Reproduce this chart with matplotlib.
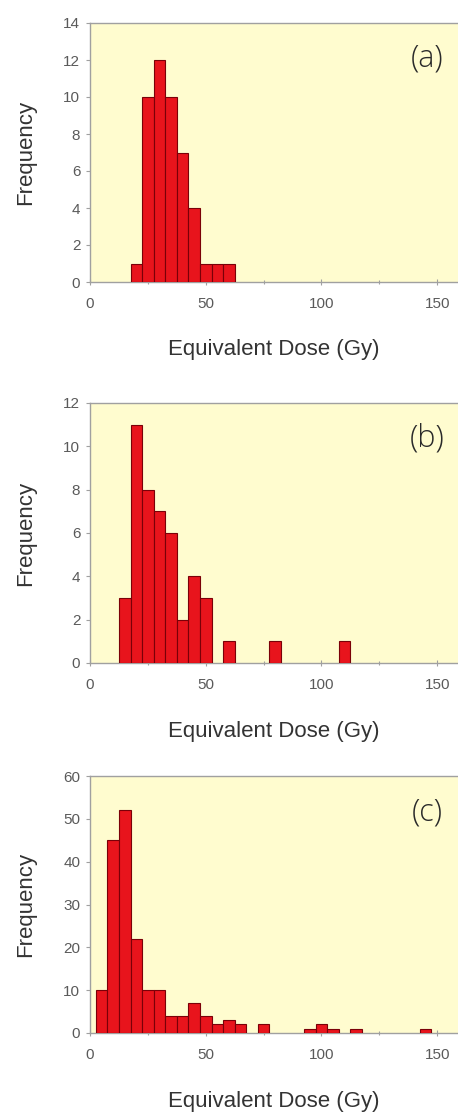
import numpy as np
import matplotlib
matplotlib.use("Agg")
import matplotlib.pyplot as plt
from matplotlib.ticker import MultipleLocator

# histogram bins (centre of each 5 Gy bin) and counts
a_centers = [20, 25, 30, 35, 40, 45, 50, 55, 60]
a_counts = [1, 10, 12, 10, 7, 4, 1, 1, 1]

b_centers = [15, 20, 25, 30, 35, 40, 45, 50, 60, 80, 110]
b_counts = [3, 11, 8, 7, 6, 2, 4, 3, 1, 1, 1]

c_centers = [5, 10, 15, 20, 25, 30, 35, 40, 45, 50, 55, 60, 65, 75,
             95, 100, 105, 115, 145]
c_counts = [10, 45, 52, 22, 10, 10, 4, 4, 7, 4, 2, 3, 2, 2,
            1, 2, 1, 1, 1]

panel_tags = ["(a)", "(b)", "(c)"]
y_tops = [14, 12, 60]
y_steps = [2, 2, 10]
x_ticks = [0, 50, 100, 150]

BIN_WIDTH = 5
BAR_COLOR = "#e8141c"
EDGE_COLOR = "#7a0008"
BG_COLOR = "#fffccf"
SPINE_COLOR = "#a0a0a0"
TEXT_COLOR = "#333333"
TICK_COLOR = "#5a5a5a"

plt.rcParams["font.family"] = ["Liberation Sans", "DejaVu Sans"]

W, H = 458, 1113
fig = plt.figure(figsize=(W / 100, H / 100), dpi=100)

# axes boxes in pixels: (left, top, bottom)
boxes = [(90, 23, 282), (90, 403, 663), (90, 776, 1033)]
data = [(a_centers, a_counts), (b_centers, b_counts), (c_centers, c_counts)]

for i, ((left, top, bottom), (centers, counts)) in enumerate(zip(boxes, data)):
    width = W - left
    h = bottom - top
    ax = fig.add_axes([left / W, 1 - bottom / H, width / W, h / H])
    ax.set_facecolor(BG_COLOR)

    ax.bar(centers, counts, width=BIN_WIDTH, color=BAR_COLOR,
           edgecolor=EDGE_COLOR, linewidth=0.8, zorder=3)

    ax.set_xlim(0, 159)
    ax.set_ylim(0, y_tops[i])
    ax.set_xticks(x_ticks)
    ax.xaxis.set_minor_locator(MultipleLocator(25))
    ax.yaxis.set_major_locator(MultipleLocator(y_steps[i]))

    for side in ["left", "bottom", "top"]:
        ax.spines[side].set_color(SPINE_COLOR)
        ax.spines[side].set_linewidth(1.0)
    ax.spines["right"].set_visible(False)

    ax.tick_params(axis="y", direction="out", length=3, width=0.8,
                   color=SPINE_COLOR, labelsize=11, labelcolor=TICK_COLOR, pad=4)
    ax.tick_params(axis="x", which="major", direction="inout", length=4, width=0.8,
                   color=SPINE_COLOR, labelsize=11, labelcolor=TICK_COLOR, pad=9)
    ax.tick_params(axis="x", which="minor", direction="inout", length=3, width=0.8,
                   color=SPINE_COLOR)

    ax.set_xlabel("Equivalent Dose (Gy)", fontsize=16, color=TEXT_COLOR)
    ax.xaxis.label.set_va("center")
    ax.xaxis.set_label_coords(0.5, -68 / h)

    ax.set_ylabel("Frequency", fontsize=16, color=TEXT_COLOR)
    ax.yaxis.label.set_va("center")
    ax.yaxis.set_label_coords(-64 / width, 0.5)

    # panel tag, top right corner (thin humanist face)
    ax.text((427 - left) / width, 1 - 36 / h, panel_tags[i],
            transform=ax.transAxes, ha="center", va="center",
            fontsize=22, color="#2a2a2a",
            family=["Open Sans", "Lato", "DejaVu Sans"], fontweight="light")

fig.savefig("out.png", dpi=100, facecolor="white")
